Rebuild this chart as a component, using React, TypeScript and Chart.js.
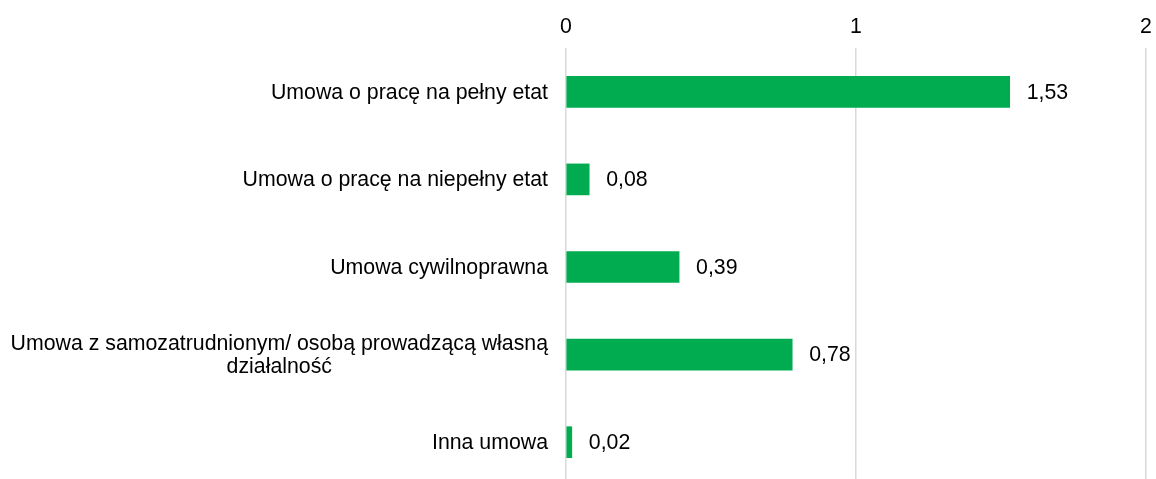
import React, { useEffect, useRef } from "react";
import { Chart, registerables } from "chart.js";

Chart.register(...registerables);

const categories: string[][] = [
  ["Umowa o pracę na pełny etat"],
  ["Umowa o pracę na niepełny etat"],
  ["Umowa cywilnoprawna"],
  ["Umowa z samozatrudnionym/ osobą prowadzącą własną", "działalność"],
  ["Inna umowa"],
];
const values: number[] = [1.53, 0.08, 0.39, 0.78, 0.02];
const xTicks: number[] = [0, 1, 2];

const FONT = "'Liberation Sans', Arial, sans-serif";
const FONT_SIZE = 21.3;

const labelsPlugin = {
  id: "customLabels",
  afterDatasetsDraw(chart: any) {
    const ctx = chart.ctx;
    const meta = chart.getDatasetMeta(0);
    const yScale = chart.scales.y;
    const area = chart.chartArea;
    ctx.save();
    ctx.font = `${FONT_SIZE}px ${FONT}`;
    ctx.fillStyle = "#000000";
    ctx.textBaseline = "middle";
    ctx.textAlign = "left";
    meta.data.forEach((bar: any, i: number) => {
      const txt = values[i].toFixed(2).replace(".", ",");
      ctx.fillText(txt, bar.x + 17, bar.y + 1);
    });
    const rightEdge = area.left - 18;
    const lh = 23;
    categories.forEach((lines, i) => {
      const cy = yScale.getPixelForValue(i) + 1;
      const widths = lines.map((l) => ctx.measureText(l).width);
      const w = Math.max(...widths);
      const cx = rightEdge - w / 2;
      ctx.textAlign = "center";
      const startY = cy - ((lines.length - 1) * lh) / 2;
      lines.forEach((l, j) => {
        ctx.fillText(l, cx, startY + j * lh);
      });
    });
    ctx.restore();
  },
};

export default function App() {
  const ref = useRef<HTMLCanvasElement | null>(null);
  useEffect(() => {
    document.body.style.margin = "0";
    const canvas = ref.current!;
    const chart = new Chart(canvas, {
      type: "bar",
      data: {
        labels: categories.map((c) => c.join(" ")),
        datasets: [
          {
            data: values,
            backgroundColor: "#00AC4F",
            borderWidth: 0,
            barThickness: 31,
          },
        ],
      },
      options: {
        indexAxis: "y",
        animation: false,
        responsive: false,
        maintainAspectRatio: false,
        layout: { padding: { left: 0, right: 10, top: 0, bottom: 0 } },
        plugins: {
          legend: { display: false },
          tooltip: { enabled: false },
        },
        scales: {
          x: {
            position: "top",
            min: 0,
            max: 2,
            afterBuildTicks(scale: any) {
              scale.ticks = xTicks.map((v) => ({ value: v }));
            },
            afterFit(scale: any) {
              scale.height = 48;
              scale.paddingLeft = 0;
              scale.paddingRight = 0;
            },
            ticks: {
              padding: 8,
              color: "#000000",
              font: { family: FONT, size: FONT_SIZE },
            },
            grid: {
              color: "#d9d9d9",
              lineWidth: 1.5,
              drawTicks: false,
            },
            border: { display: false },
          },
          y: {
            afterFit(scale: any) {
              scale.width = 566;
            },
            ticks: { display: false },
            grid: { display: false, drawTicks: false },
            border: { display: false },
          },
        },
      },
      plugins: [labelsPlugin],
    } as any);
    return () => chart.destroy();
  }, []);
  return (
    <div style={{ position: "fixed", left: 0, top: 0, width: 1156, height: 486 }}>
      <canvas ref={ref} width={1156} height={486} style={{ width: 1156, height: 486, display: "block" }} />
    </div>
  );
}
